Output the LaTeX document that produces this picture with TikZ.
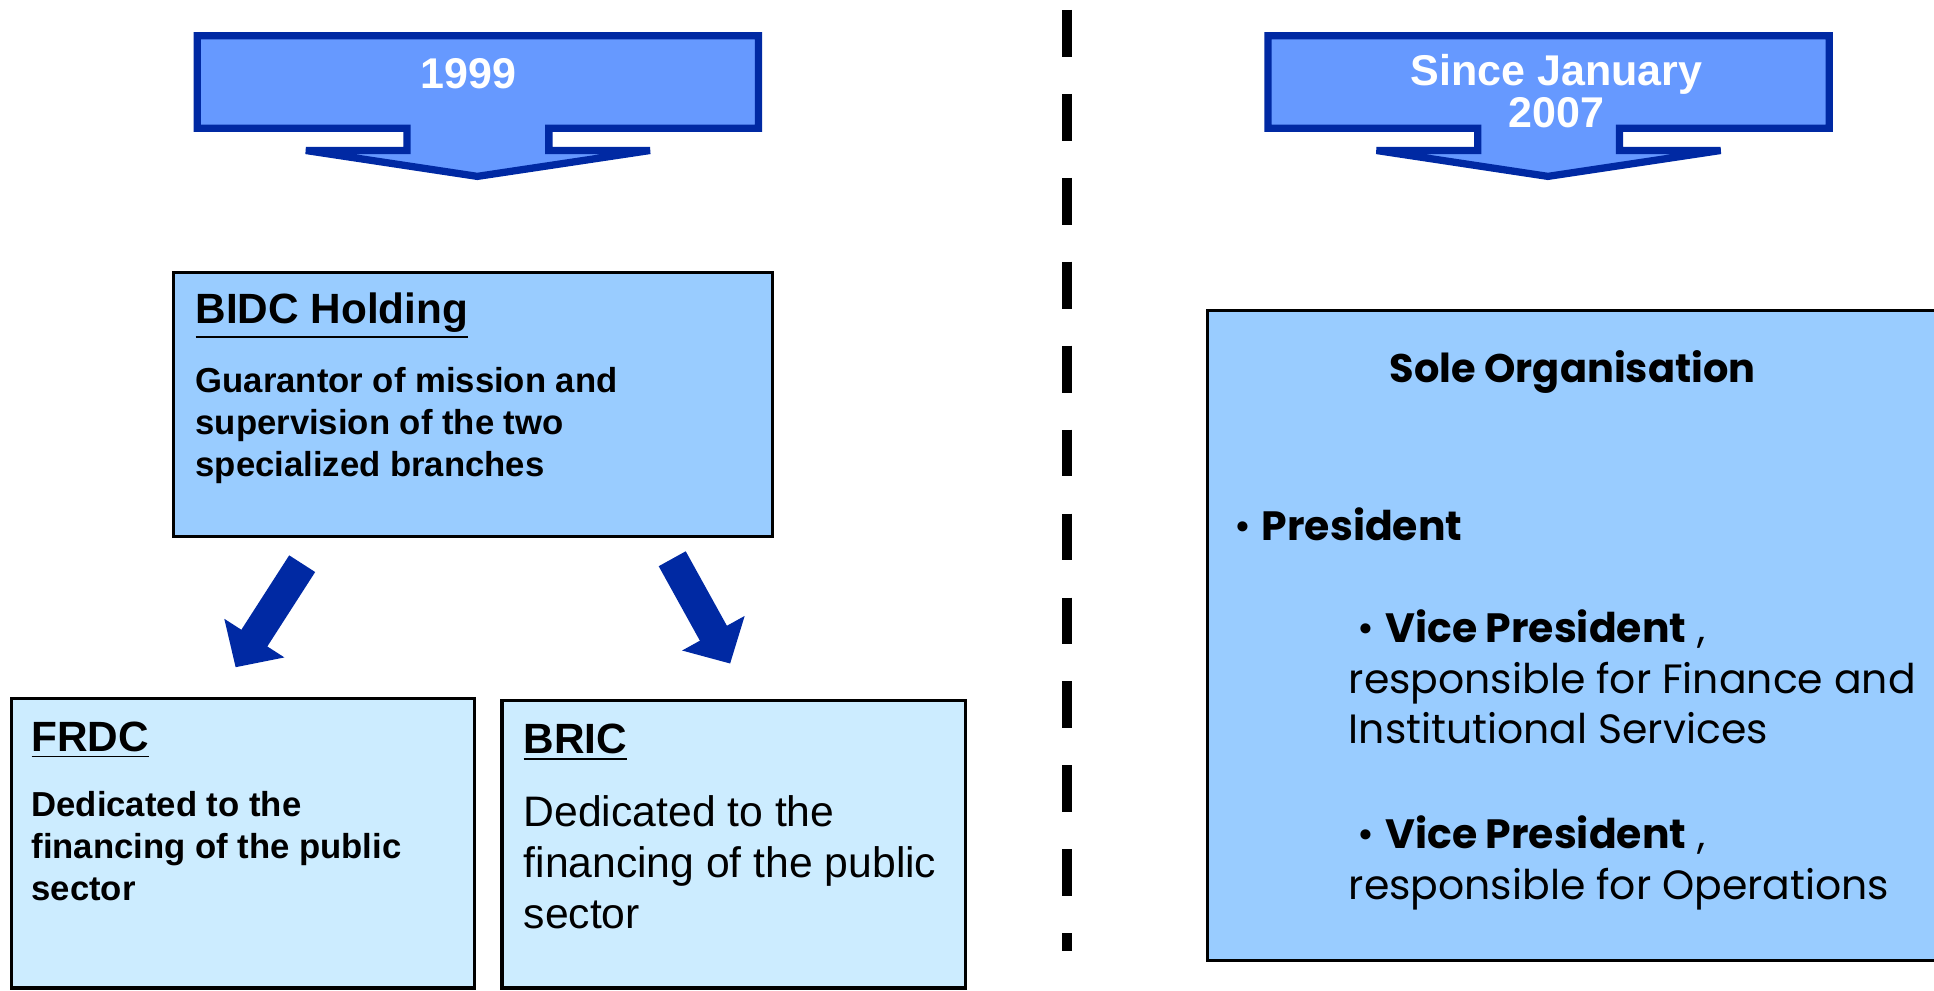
\documentclass[tikz,border=0pt]{standalone}
\usepackage{fontspec}
\setmainfont{Liberation Sans}
\newfontfamily\geofont{Poppins}
\usetikzlibrary{arrows.meta,fit}

\definecolor{bannerblue}{HTML}{6699FF}
\definecolor{navyblue}{HTML}{0029A3}
\definecolor{boxblue}{HTML}{99CCFF}
\definecolor{paleblue}{HTML}{CCECFF}

\begin{document}
\begin{tikzpicture}[x=0.0125cm, y=-0.0125cm,
  banner/.style={draw=navyblue, fill=bannerblue, line width=2.1pt},
  bannertext/.style={text=white, inner sep=0pt, align=center,
    font=\fontsize{12.4}{12.1}\selectfont\bfseries},
  orgbox/.style={draw=black, fill=boxblue, line width=0.9pt, inner sep=0pt},
  subbox/.style={draw=black, fill=paleblue, line width=0.9pt, inner sep=0pt},
  txt/.style={inner sep=0pt, anchor=base west, align=left},
  boxtitle/.style={txt, font=\fontsize{12.2}{14}\selectfont\bfseries},
  boldbody/.style={txt, font=\fontsize{10}{12.1}\selectfont\bfseries},
  plainbody/.style={txt, font=\fontsize{12.3}{14.8}\selectfont},
  geotitle/.style={inner sep=0pt, font=\geofont\fontsize{11.5}{13.8}\selectfont\bfseries},
  geotxt/.style={txt, font=\geofont\fontsize{11.8}{14.6}\selectfont},
  blockarrow/.style={navyblue, line width=8.9pt,
    -{Triangle[length=10pt, width=20pt]}},
  divider/.style={line width=2.9pt, dash pattern=on 13.5pt off 10.7pt}]
\useasboundingbox (0,0) rectangle (1568,803);

% dividing line
\draw[divider] (865,8) -- (865,771);

% year banners
\foreach \dx in {0,868}
  \draw[banner, shift={(\dx,0)}] (160,29) -- (615,29) -- (615,104) -- (445,104)
    -- (445,122) -- (527,122) -- (387,143) -- (248,122) -- (330,122)
    -- (330,104) -- (160,104) -- cycle;
\node[bannertext] (yearold) at (380,60) {1999};
\node[bannertext] (yearnew) at (1262,74) {Since January\\2007};

% 1999 structure (base anchor sits on the last line)
\node[orgbox, fit={(141,221) (626,435)}] (bidc) {};
\node[boxtitle] (bidctitle) at (158,262) {\underline{BIDC Holding}};
\node[boldbody] (bidctext) at (158,386)
  {Guarantor of mission and\\supervision of the two\\specialized branches};

\node[subbox, fit={(9,566) (385,801)}] (frdc) {};
\node[boxtitle] (frdctitle) at (25,609) {\underline{FRDC}};
\node[boldbody] (frdctext) at (25,730)
  {Dedicated to the\\financing of the public\\sector};

\node[subbox, fit={(407,568) (783,801)}] (bric) {};
\node[boxtitle] (brictitle) at (424,611) {\underline{BRIC}};
\node[plainbody] (brictext) at (424,753)
  {Dedicated to the\\financing of the public\\sector};

\coordinate (ltail) at (245,457);
\coordinate (lhead) at (191,541);
\coordinate (rtail) at (545,453);
\coordinate (rhead) at (592,538);
\draw[blockarrow] (ltail) -- (lhead);
\draw[blockarrow] (rtail) -- (rhead);

% 2007 structure
\node[orgbox, fit={(979,252) (1610,779)}] (sole) {};
\node[geotitle] (soletitle) at (1275,302) {Sole Organisation};
\node[geotxt] (pres) at (1000,438) {\textbullet\ \textbf{President}};
\node[geotxt] (vpfin) at (1093,603)
  {\hspace*{2.5pt}\textbullet\ \textbf{Vice President} ,\\responsible for Finance and\\Institutional Services};
\node[geotxt] (vpops) at (1093,729)
  {\hspace*{2.5pt}\textbullet\ \textbf{Vice President} ,\\responsible for Operations};
\end{tikzpicture}
\end{document}
